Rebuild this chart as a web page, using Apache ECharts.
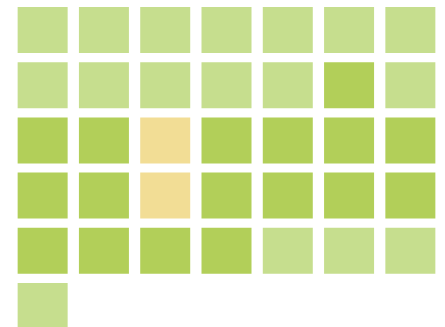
<!DOCTYPE html>
<html>
<head>
<meta charset="utf-8">
<style>
  html, body { margin: 0; padding: 0; background: #ffffff; }
  #chart { width: 445px; height: 327px; }
</style>
<script src="https://cdn.jsdelivr.net/npm/echarts@6/dist/echarts.min.js"></script>
</head>
<body>
<div id="chart"></div>
<script>
// Grid of 7 columns, filled row by row
const columns = ['1', '2', '3', '4', '5', '6', '7'];
const rows = ['1', '2', '3', '4', '5', '6'];

// Level per cell, in reading order (0 = yellow, 1 = light green, 2 = green)
const levels = [
  1, 1, 1, 1, 1, 1, 1,
  1, 1, 1, 1, 1, 2, 1,
  2, 2, 0, 2, 2, 2, 2,
  2, 2, 0, 2, 2, 2, 2,
  2, 2, 2, 2, 1, 1, 1,
  1
];

const levelColors = ['#f2dd95', '#c6de8e', '#b2cf59'];

const cells = levels.map(function (v, i) {
  return [columns[i % columns.length], rows[Math.floor(i / columns.length)], v];
});

const chart = echarts.init(document.getElementById('chart'));
chart.setOption({
  animation: false,
  backgroundColor: '#ffffff',
  // the last row runs past the bottom edge, so the grid is not kept inside the canvas
  grid: { left: 12, width: 429, top: 2.5, height: 331, outerBoundsMode: 'none' },
  xAxis: {
    type: 'category',
    data: columns,
    show: false
  },
  yAxis: {
    type: 'category',
    data: rows,
    inverse: true,
    show: false
  },
  visualMap: {
    show: false,
    type: 'piecewise',
    dimension: 2,
    pieces: levelColors.map(function (c, i) { return { value: i, color: c }; })
  },
  series: [{
    type: 'scatter',
    symbol: 'rect',
    symbolSize: [50, 46],
    data: cells,
    itemStyle: { opacity: 1 }
  }]
});
</script>
</body>
</html>
